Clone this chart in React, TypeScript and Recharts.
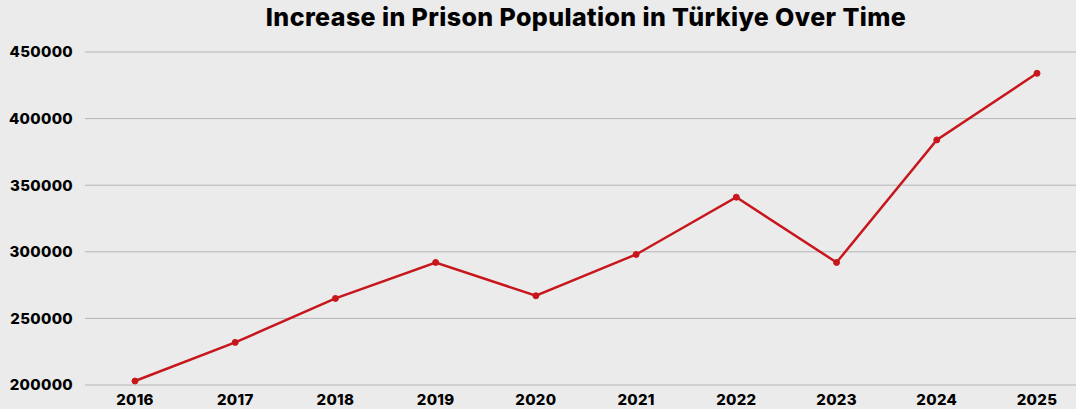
import React from 'react';
import { LineChart, Line, XAxis, YAxis, CartesianGrid } from 'recharts';

// Prison population by year
const years = ['2016', '2017', '2018', '2019', '2020', '2021', '2022', '2023', '2024', '2025'];
const population = [203000, 232000, 265000, 292000, 267000, 298000, 341000, 292000, 384000, 434000];
const yTicks = [200000, 250000, 300000, 350000, 400000, 450000];

const data = years.map((year, i) => ({ year, population: population[i] }));

const font = 'Inter, "DejaVu Sans", sans-serif';
const tickStyle = { fill: '#000', fontSize: 15, fontWeight: 800, fontFamily: font, letterSpacing: 0.3 };

export default function App() {
  return (
    <div
      style={{
        position: 'fixed',
        left: 0,
        top: 0,
        width: 1076,
        height: 409,
        overflow: 'hidden',
        background: '#ebebeb',
        fontFamily: font,
      }}
    >
      <div
        style={{
          position: 'absolute',
          top: 2,
          left: 0,
          width: 1172,
          textAlign: 'center',
          fontSize: 25,
          fontWeight: 800,
          letterSpacing: 0.4,
          color: '#000',
        }}
      >
        Increase in Prison Population in Türkiye Over Time
      </div>
      <LineChart
        width={1076}
        height={409}
        data={data}
        margin={{ top: 52, right: 0, bottom: 0, left: 0 }}
      >
        <CartesianGrid vertical={false} stroke="#b5b5b5" strokeWidth={1} />
        <XAxis
          dataKey="year"
          axisLine={false}
          tickLine={false}
          height={24}
          tickMargin={3}
          padding={{ left: 50, right: 39 }}
          tick={tickStyle}
        />
        <YAxis
          domain={[200000, 450000]}
          ticks={yTicks}
          axisLine={false}
          tickLine={false}
          width={85}
          tickMargin={6}
          tick={tickStyle}
        />
        <Line
          type="linear"
          dataKey="population"
          stroke="#c8161d"
          strokeWidth={2.5}
          dot={{ r: 3, fill: '#c8161d', stroke: '#c8161d', strokeWidth: 1 }}
          isAnimationActive={false}
        />
      </LineChart>
    </div>
  );
}
